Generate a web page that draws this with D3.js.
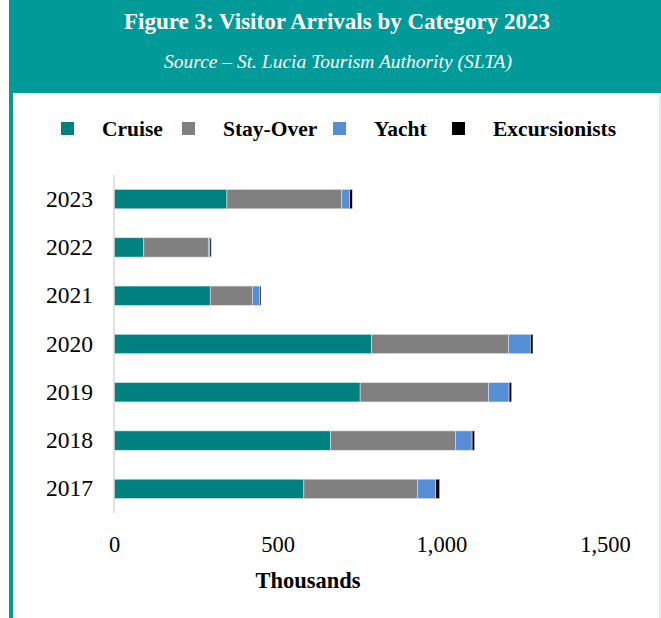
<!DOCTYPE html>
<html>
<head>
<meta charset="utf-8">
<script src="https://cdn.jsdelivr.net/npm/d3@7"></script>
<style>
  body { margin: 0; background: #fff; }
  text { font-family: "Liberation Serif", "DejaVu Serif", serif; }
</style>
</head>
<body>
<svg width="661" height="618"></svg>
<script>
// values in thousands
var years = ['2017', '2018', '2019', '2020', '2021', '2022', '2023'];
var cruise = [580, 662, 752, 787, 294, 91, 345];
var stayOver = [347, 381, 392, 418, 129, 197, 351];
var yacht = [56, 51, 63, 67, 22, 5, 24];
var excursionists = [12, 8, 8, 8, 4, 4, 8];
var seriesNames = ['Cruise', 'Stay-Over', 'Yacht', 'Excursionists'];
var seriesColors = ['#008080', '#808080', '#558ed5', '#000000'];
var xTicks = [0, 500, 1000, 1500];

var svg = d3.select('svg');

// frame
svg.append('rect').attr('x', 9).attr('y', 0).attr('width', 652).attr('height', 93).attr('fill', '#009b98');
svg.append('rect').attr('x', 9).attr('y', 93).attr('width', 4).attr('height', 525).attr('fill', '#009b98');
svg.append('rect').attr('x', 659).attr('y', 93).attr('width', 2).attr('height', 525).attr('fill', '#dcefef');

svg.append('text')
  .attr('x', 337).attr('y', 29)
  .attr('text-anchor', 'middle')
  .attr('fill', '#fff')
  .style('font-size', '23px')
  .style('font-weight', 'bold')
  .text('Figure 3: Visitor  Arrivals by Category 2023');

svg.append('text')
  .attr('x', 338).attr('y', 68)
  .attr('text-anchor', 'middle')
  .attr('fill', '#fff')
  .style('font-size', '19.5px')
  .style('font-style', 'italic')
  .text('Source \u2013 St. Lucia Tourism Authority (SLTA)');

// legend
var legendX = [61, 182, 333, 452];
var legend = svg.append('g').attr('class', 'legend');
seriesNames.forEach(function(name, i) {
  legend.append('rect')
    .attr('x', legendX[i]).attr('y', 122)
    .attr('width', 13).attr('height', 13)
    .attr('fill', seriesColors[i]);
  legend.append('text')
    .attr('x', legendX[i] + 41).attr('y', 136)
    .style('font-size', '21.5px')
    .style('font-weight', 'bold')
    .text(name);
});

// chart
var xScale = d3.scaleLinear().domain([0, 1500]).range([114, 605]);
var yScale = d3.scaleBand().domain(years.slice().reverse()).range([175, 513]).paddingInner(0.6).paddingOuter(0.3);

var table = years.map(function(y, i) {
  return {year: y, 'Cruise': cruise[i], 'Stay-Over': stayOver[i], 'Yacht': yacht[i], 'Excursionists': excursionists[i]};
});
var stacked = d3.stack().keys(seriesNames)(table);

var chart = svg.append('g');

chart.selectAll('g.series')
  .data(stacked)
  .enter()
  .append('g')
  .attr('class', 'series')
  .attr('fill', (d, i) => seriesColors[i])
  .selectAll('rect')
  .data(d => d)
  .enter()
  .append('rect')
  .attr('x', d => xScale(d[0]))
  .attr('y', d => yScale(d.data.year))
  .attr('width', d => xScale(d[1]) - xScale(d[0]))
  .attr('height', yScale.bandwidth())
  .attr('stroke', '#e0e0e0')
  .attr('stroke-width', 0.6);

chart.append('line')
  .attr('x1', xScale(0)).attr('x2', xScale(0))
  .attr('y1', 175).attr('y2', 513)
  .attr('stroke', '#d9d9d9')
  .attr('stroke-width', 1.5);

var yAxis = chart.append('g')
  .attr('transform', 'translate(' + (xScale(0) - 21) + ',0)')
  .call(d3.axisLeft(yScale).tickSize(0).tickPadding(0));
yAxis.select('.domain').remove();
yAxis.selectAll('text')
  .style('font-family', '"Liberation Serif", serif')
  .style('font-size', '23.5px')
  .attr('fill', '#000');

var xAxis = chart.append('g')
  .attr('transform', 'translate(0,530)')
  .call(d3.axisBottom(xScale).tickValues(xTicks).tickFormat(d3.format(',')).tickSize(0).tickPadding(6));
xAxis.select('.domain').remove();
xAxis.selectAll('text')
  .style('font-family', '"Liberation Serif", serif')
  .style('font-size', '22.5px')
  .attr('fill', '#000');

chart.append('text')
  .attr('x', 308).attr('y', 588)
  .attr('text-anchor', 'middle')
  .style('font-size', '22.5px')
  .style('font-weight', 'bold')
  .text('Thousands');
</script>
</body>
</html>
